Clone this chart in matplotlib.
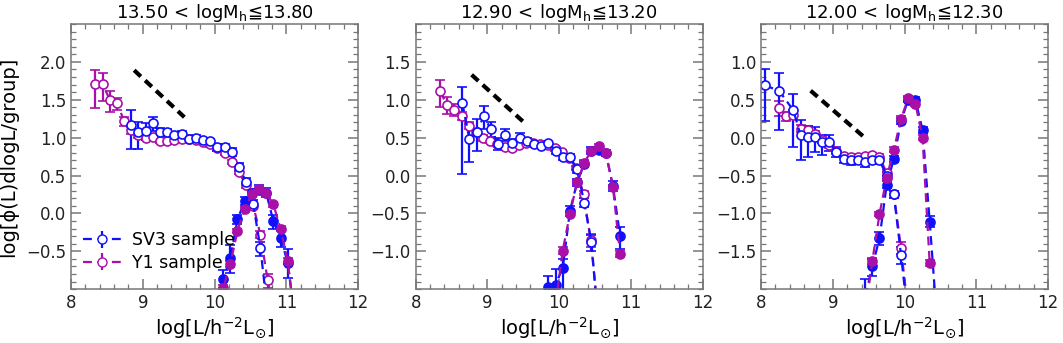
import matplotlib
matplotlib.use("Agg")
import matplotlib.pyplot as plt
from matplotlib.ticker import MultipleLocator, FixedLocator

# ---------------- data ----------------
titles = [r"13.50$\,<\,$logM$_{\mathrm{h}}$≦13.80",
          r"12.90$\,<\,$logM$_{\mathrm{h}}$≦13.20",
          r"12.00$\,<\,$logM$_{\mathrm{h}}$≦12.30"]
ylims = [(-1.0, 2.5), (-1.5, 2.0), (-2.0, 1.5)]
yticks = [[-0.5, 0.0, 0.5, 1.0, 1.5, 2.0],
          [-1.0, -0.5, 0.0, 0.5, 1.0, 1.5],
          [-1.5, -1.0, -0.5, 0.0, 0.5, 1.0]]
slope_x = [[8.88, 9.58], [8.78, 9.50], [8.69, 9.42]]
slope_y = [[1.89, 1.27], [1.33, 0.71], [0.62, 0.02]]

# Panel 1
p1_y1sat_x = [8.34, 8.44, 8.54, 8.64, 8.74, 8.84, 8.94, 9.04, 9.14, 9.24, 9.34, 9.44, 9.54,
              9.64, 9.74, 9.84, 9.94, 10.04, 10.14, 10.24, 10.34, 10.44, 10.54, 10.64, 10.74, 10.84]
p1_y1sat_y = [1.71, 1.71, 1.50, 1.46, 1.22, 1.10, 1.04, 1.00, 1.01, 0.96, 0.95, 0.97, 0.98,
              0.98, 0.97, 0.94, 0.91, 0.86, 0.80, 0.68, 0.55, 0.37, 0.10, -0.28, -0.88, -1.40]
p1_y1sat_lo = [0.32, 0.22, 0.16, 0.10, 0.06, 0.05, 0.04, 0.03, 0.03, 0.03, 0.03, 0.03, 0.03,
               0.03, 0.03, 0.03, 0.03, 0.03, 0.03, 0.03, 0.03, 0.03, 0.04, 0.05, 0.10, 0.10]
p1_y1sat_hi = [0.18, 0.14, 0.11, 0.06, 0.05, 0.04, 0.03, 0.03, 0.03, 0.03, 0.03, 0.03, 0.03,
               0.03, 0.03, 0.03, 0.03, 0.03, 0.03, 0.03, 0.03, 0.03, 0.04, 0.05, 0.08, 0.08]

p1_sv3sat_x = [8.84, 8.94, 9.04, 9.14, 9.24, 9.34, 9.44, 9.54, 9.64, 9.74, 9.84, 9.94, 10.04,
               10.14, 10.24, 10.34, 10.44, 10.54, 10.64, 10.74]
p1_sv3sat_y = [1.17, 1.07, 1.09, 1.19, 1.07, 1.07, 1.04, 1.05, 0.98, 1.00, 0.97, 0.95, 0.87,
               0.87, 0.81, 0.61, 0.42, 0.12, -0.46, -1.30]
p1_sv3sat_lo = [0.32, 0.22, 0.12, 0.10, 0.07, 0.05, 0.05, 0.04, 0.03, 0.03, 0.03, 0.03, 0.04,
                0.04, 0.05, 0.05, 0.05, 0.06, 0.10, 0.20]
p1_sv3sat_hi = [0.19, 0.14, 0.10, 0.08, 0.06, 0.05, 0.04, 0.04, 0.03, 0.03, 0.03, 0.03, 0.04,
                0.04, 0.05, 0.05, 0.05, 0.06, 0.08, 0.15]

p1_sv3cen_x = [10.02, 10.12, 10.22, 10.32, 10.42, 10.52, 10.62, 10.72, 10.82, 10.92, 11.02, 11.12]
p1_sv3cen_y = [-1.30, -0.87, -0.59, -0.08, 0.16, 0.27, 0.31, 0.27, -0.10, -0.32, -0.65, -1.40]
p1_sv3cen_lo = [0.30, 0.12, 0.20, 0.06, 0.05, 0.05, 0.06, 0.06, 0.10, 0.12, 0.20, 0.30]
p1_sv3cen_hi = [0.20, 0.12, 0.17, 0.06, 0.05, 0.05, 0.06, 0.06, 0.08, 0.10, 0.18, 0.25]

p1_y1cen_x = [10.02, 10.12, 10.22, 10.32, 10.42, 10.52, 10.62, 10.72, 10.82, 10.92, 11.02, 11.12]
p1_y1cen_y = [-1.30, -0.99, -0.67, -0.23, 0.06, 0.25, 0.32, 0.27, 0.12, -0.20, -0.63, -1.40]
p1_y1cen_lo = [0.05, 0.04, 0.04, 0.03, 0.03, 0.03, 0.03, 0.03, 0.03, 0.03, 0.04, 0.05]
p1_y1cen_hi = [0.05, 0.04, 0.04, 0.03, 0.03, 0.03, 0.03, 0.03, 0.03, 0.03, 0.04, 0.05]

# Panel 2
p2_y1sat_x = [8.34, 8.44, 8.54, 8.64, 8.74, 8.84, 8.94, 9.04, 9.14, 9.24, 9.34, 9.44, 9.54,
              9.64, 9.74, 9.84, 9.94, 10.04, 10.14, 10.24, 10.34, 10.44, 10.54]
p2_y1sat_y = [1.11, 0.93, 0.87, 0.79, 0.66, 0.57, 0.50, 0.46, 0.42, 0.37, 0.36, 0.40, 0.43,
              0.43, 0.41, 0.40, 0.36, 0.31, 0.23, 0.10, -0.25, -0.85, -1.80]
p2_y1sat_lo = [0.21, 0.12, 0.08, 0.06, 0.05, 0.04, 0.04, 0.03, 0.03, 0.03, 0.03, 0.03, 0.03,
               0.03, 0.03, 0.03, 0.03, 0.03, 0.03, 0.03, 0.05, 0.10, 0.10]
p2_y1sat_hi = [0.15, 0.10, 0.07, 0.05, 0.05, 0.04, 0.04, 0.03, 0.03, 0.03, 0.03, 0.03, 0.03,
               0.03, 0.03, 0.03, 0.03, 0.03, 0.03, 0.03, 0.05, 0.08, 0.08]

p2_sv3sat_x = [8.65, 8.75, 8.85, 8.95, 9.05, 9.15, 9.25, 9.35, 9.45, 9.55, 9.65, 9.75, 9.85,
               9.95, 10.05, 10.15, 10.25, 10.35, 10.45, 10.55]
p2_sv3sat_y = [0.96, 0.48, 0.58, 0.78, 0.61, 0.42, 0.54, 0.43, 0.50, 0.45, 0.42, 0.39, 0.43,
               0.33, 0.25, 0.25, 0.08, -0.36, -0.88, -2.00]
p2_sv3sat_lo = [0.94, 0.30, 0.25, 0.17, 0.10, 0.08, 0.08, 0.05, 0.06, 0.04, 0.03, 0.03, 0.03,
                0.04, 0.04, 0.04, 0.05, 0.06, 0.12, 0.20]
p2_sv3sat_hi = [0.21, 0.20, 0.17, 0.14, 0.10, 0.08, 0.08, 0.05, 0.06, 0.04, 0.03, 0.03, 0.03,
                0.04, 0.04, 0.04, 0.05, 0.06, 0.10, 0.15]

p2_sv3cen_x = [9.85, 9.95, 10.05, 10.15, 10.25, 10.35, 10.45, 10.55, 10.65, 10.75, 10.85]
p2_sv3cen_y = [-1.47, -1.44, -1.22, -0.47, -0.09, 0.15, 0.33, 0.34, 0.30, -0.14, -0.80]
p2_sv3cen_lo = [0.30, 0.40, 0.30, 0.07, 0.05, 0.04, 0.04, 0.04, 0.04, 0.07, 0.17]
p2_sv3cen_hi = [0.15, 0.20, 0.12, 0.07, 0.05, 0.04, 0.04, 0.04, 0.04, 0.07, 0.12]

p2_y1cen_x = [9.95, 10.05, 10.15, 10.25, 10.35, 10.45, 10.55, 10.65, 10.75, 10.85]
p2_y1cen_y = [-1.70, -0.99, -0.51, -0.09, 0.17, 0.33, 0.39, 0.30, -0.15, -1.04]
p2_y1cen_lo = [0.05, 0.04, 0.03, 0.03, 0.03, 0.03, 0.03, 0.03, 0.03, 0.04]
p2_y1cen_hi = [0.05, 0.04, 0.03, 0.03, 0.03, 0.03, 0.03, 0.03, 0.03, 0.04]

# Panel 3
p3_y1sat_x = [8.25, 8.35, 8.45, 8.55, 8.65, 8.75, 8.85, 8.95, 9.05, 9.15, 9.25, 9.35, 9.45,
              9.55, 9.65, 9.75, 9.85, 9.95, 10.05]
p3_y1sat_y = [0.39, 0.28, 0.30, 0.12, 0.10, 0.05, -0.03, -0.10, -0.18, -0.24, -0.26, -0.25, -0.24,
              -0.23, -0.25, -0.47, -0.75, -1.46, -2.30]
p3_y1sat_lo = [0.10, 0.06, 0.06, 0.05, 0.05, 0.04, 0.04, 0.04, 0.03, 0.03, 0.03, 0.03, 0.03,
               0.03, 0.03, 0.04, 0.05, 0.08, 0.10]
p3_y1sat_hi = [0.10, 0.06, 0.06, 0.05, 0.05, 0.04, 0.04, 0.04, 0.03, 0.03, 0.03, 0.03, 0.03,
               0.03, 0.03, 0.04, 0.05, 0.08, 0.10]

p3_sv3sat_x = [8.05, 8.25, 8.45, 8.55, 8.65, 8.75, 8.85, 8.95, 9.05, 9.15, 9.25, 9.35, 9.45,
               9.55, 9.65, 9.75, 9.85, 9.95, 10.05]
p3_sv3sat_y = [0.69, 0.62, 0.36, 0.03, 0.01, 0.01, -0.06, -0.06, -0.19, -0.28, -0.30, -0.30, -0.32,
               -0.30, -0.30, -0.50, -0.75, -1.55, -2.40]
p3_sv3sat_lo = [0.47, 0.52, 0.48, 0.33, 0.27, 0.20, 0.17, 0.12, 0.07, 0.06, 0.06, 0.05, 0.07,
                0.05, 0.05, 0.05, 0.05, 0.12, 0.20]
p3_sv3sat_hi = [0.22, 0.23, 0.22, 0.20, 0.15, 0.13, 0.10, 0.09, 0.06, 0.05, 0.05, 0.05, 0.05,
                0.05, 0.05, 0.05, 0.05, 0.10, 0.15]

p3_sv3cen_x = [9.45, 9.55, 9.65, 9.75, 9.85, 9.95, 10.05, 10.15, 10.25, 10.35, 10.45]
p3_sv3cen_y = [-2.10, -1.70, -1.33, -0.62, -0.28, 0.22, 0.50, 0.50, 0.10, -1.11, -2.40]
p3_sv3cen_lo = [0.30, 0.12, 0.09, 0.05, 0.04, 0.04, 0.03, 0.03, 0.04, 0.07, 0.20]
p3_sv3cen_hi = [0.24, 0.10, 0.08, 0.05, 0.04, 0.04, 0.03, 0.03, 0.04, 0.07, 0.15]

p3_y1cen_x = [9.45, 9.55, 9.65, 9.75, 9.85, 9.95, 10.05, 10.15, 10.25, 10.35]
p3_y1cen_y = [-2.30, -1.63, -1.01, -0.53, -0.16, 0.25, 0.52, 0.45, 0.00, -1.66]
p3_y1cen_lo = [0.05, 0.04, 0.03, 0.03, 0.03, 0.03, 0.03, 0.03, 0.03, 0.04]
p3_y1cen_hi = [0.05, 0.04, 0.03, 0.03, 0.03, 0.03, 0.03, 0.03, 0.03, 0.04]

panels = [
    dict(y1sat=(p1_y1sat_x, p1_y1sat_y, p1_y1sat_lo, p1_y1sat_hi),
         sv3sat=(p1_sv3sat_x, p1_sv3sat_y, p1_sv3sat_lo, p1_sv3sat_hi),
         sv3cen=(p1_sv3cen_x, p1_sv3cen_y, p1_sv3cen_lo, p1_sv3cen_hi),
         y1cen=(p1_y1cen_x, p1_y1cen_y, p1_y1cen_lo, p1_y1cen_hi)),
    dict(y1sat=(p2_y1sat_x, p2_y1sat_y, p2_y1sat_lo, p2_y1sat_hi),
         sv3sat=(p2_sv3sat_x, p2_sv3sat_y, p2_sv3sat_lo, p2_sv3sat_hi),
         sv3cen=(p2_sv3cen_x, p2_sv3cen_y, p2_sv3cen_lo, p2_sv3cen_hi),
         y1cen=(p2_y1cen_x, p2_y1cen_y, p2_y1cen_lo, p2_y1cen_hi)),
    dict(y1sat=(p3_y1sat_x, p3_y1sat_y, p3_y1sat_lo, p3_y1sat_hi),
         sv3sat=(p3_sv3sat_x, p3_sv3sat_y, p3_sv3sat_lo, p3_sv3sat_hi),
         sv3cen=(p3_sv3cen_x, p3_sv3cen_y, p3_sv3cen_lo, p3_sv3cen_hi),
         y1cen=(p3_y1cen_x, p3_y1cen_y, p3_y1cen_lo, p3_y1cen_hi)),
]

# ---------------- style ----------------
plt.rcParams['font.family'] = ['DejaVu Sans', 'Noto Sans CJK SC']
plt.rcParams['mathtext.fontset'] = 'dejavusans'
BLUE = '#1010ff'
MAG = '#a810a8'
SPINE = '#777777'

fig = plt.figure(figsize=(10.63, 3.43), dpi=100)
lefts = [0.0668, 0.391, 0.716]
W = 0.270
B = 0.157
H = 0.773

def draw(ax, data, color, filled, label=None):
    x, y, lo, hi = data
    ax.errorbar(x, y, yerr=[lo, hi], color=color, ls='--', lw=1.6, dashes=(4, 2.5),
                marker='o', ms=6.5, mfc=color if filled else 'white', mec=color, mew=1.2,
                capsize=3.5, elinewidth=1.6, capthick=1.6, label=label)

for i, d in enumerate(panels):
    ax = fig.add_axes([lefts[i], B, W, H])
    draw(ax, d['y1sat'], MAG, False)
    draw(ax, d['sv3sat'], BLUE, False)
    draw(ax, d['sv3cen'], BLUE, True)
    draw(ax, d['y1cen'], MAG, True)
    ax.plot(slope_x[i], slope_y[i], color='black', lw=3, ls='--', dashes=(2.2, 1.4))
    ax.set_xlim(8, 12)
    ax.set_ylim(*ylims[i])
    ax.xaxis.set_major_locator(MultipleLocator(1))
    ax.xaxis.set_minor_locator(MultipleLocator(0.2))
    ax.yaxis.set_major_locator(FixedLocator(yticks[i]))
    ax.yaxis.set_minor_locator(MultipleLocator(0.1))
    ax.tick_params(which='both', direction='in', top=True, right=True, colors=SPINE,
                   labelcolor='#222222', labelsize=12)
    ax.tick_params(which='major', length=7, width=1.1)
    ax.tick_params(which='minor', length=3.5, width=0.9)
    for s in ax.spines.values():
        s.set_color(SPINE)
        s.set_linewidth(1.1)
    ax.set_title(titles[i], fontsize=13, pad=4)
    ax.set_xlabel(r"log[L/h$^{-2}$L$_{\odot}$]", fontsize=14, labelpad=2)
    if i == 0:
        ax.set_ylabel("log[ϕ(L)dlogL/group]", fontsize=14, labelpad=6)
        # legend proxies
        h1 = ax.errorbar([], [], yerr=[], color=BLUE, ls='--', lw=1.6, dashes=(4, 2.5), marker='o',
                         ms=6.5, mfc='white', mec=BLUE, capsize=3.5, elinewidth=1.6, label='SV3 sample')
        h2 = ax.errorbar([], [], yerr=[], color=MAG, ls='--', lw=1.6, dashes=(4, 2.5), marker='o',
                         ms=6.5, mfc='white', mec=MAG, capsize=3.5, elinewidth=1.6, label='Y1 sample')
        ax.legend(handles=[h1, h2], loc='lower left', frameon=False, fontsize=12.5,
                  handlelength=2.2, borderaxespad=0.3, handletextpad=0.6, labelspacing=0.25,
                  bbox_to_anchor=(0.0, 0.02))

fig.savefig('out.png', dpi=100)
